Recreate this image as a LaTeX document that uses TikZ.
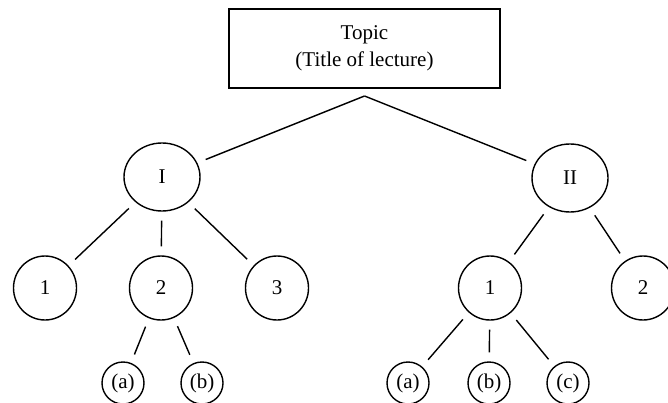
\documentclass[tikz,border=0pt]{standalone}
\usepackage{fontspec}
\setmainfont{Liberation Serif}
\usetikzlibrary{shapes.geometric}
\begin{document}
\begin{tikzpicture}[x=1pt,y=-1pt,
  every node/.style={font=\fontsize{21}{27}\selectfont, line width=1.4pt, inner sep=0pt},
  bigc/.style={draw, ellipse, minimum width=76pt, minimum height=68pt},
  midc/.style={draw, ellipse, minimum width=63pt, minimum height=64pt},
  smallc/.style={draw, circle, minimum size=42pt},
  link/.style={line width=1.4pt, shorten <=9pt, shorten >=9pt}]
\useasboundingbox (0,0) rectangle (668,403);
\node[draw, rectangle, minimum width=271pt, minimum height=79pt, align=center] (top) at (364.5,48.5) {Topic\\(Title of lecture)};
\coordinate (apex) at (364.5,96);
\node[bigc] (I) at (162,177) {I};
\node[bigc] (II) at (570,178) {II};
\node[midc] (a1) at (45,288) {1};
\node[midc] (a2) at (161,288) {2};
\node[midc] (a3) at (277,288) {3};
\node[midc] (b1) at (490,288) {1};
\node[midc] (b2) at (643,288) {2};
\node[smallc] (a2a) at (123,383) {(a)};
\node[smallc] (a2b) at (202,383) {(b)};
\node[smallc] (b1a) at (408,383) {(a)};
\node[smallc] (b1b) at (489,383) {(b)};
\node[smallc] (b1c) at (568,383) {(c)};
\draw[link, shorten <=0pt] (apex) -- (I);
\draw[link, shorten <=0pt] (apex) -- (II);
\draw[link] (I) -- (a1);
\draw[link] (I) -- (a2);
\draw[link] (I) -- (a3);
\draw[link] (II) -- (b1);
\draw[link] (II) -- (b2);
\draw[link] (a2) -- (a2a);
\draw[link] (a2) -- (a2b);
\draw[link] (b1) -- (b1a);
\draw[link] (b1) -- (b1b);
\draw[link] (b1) -- (b1c);
\end{tikzpicture}
\end{document}
